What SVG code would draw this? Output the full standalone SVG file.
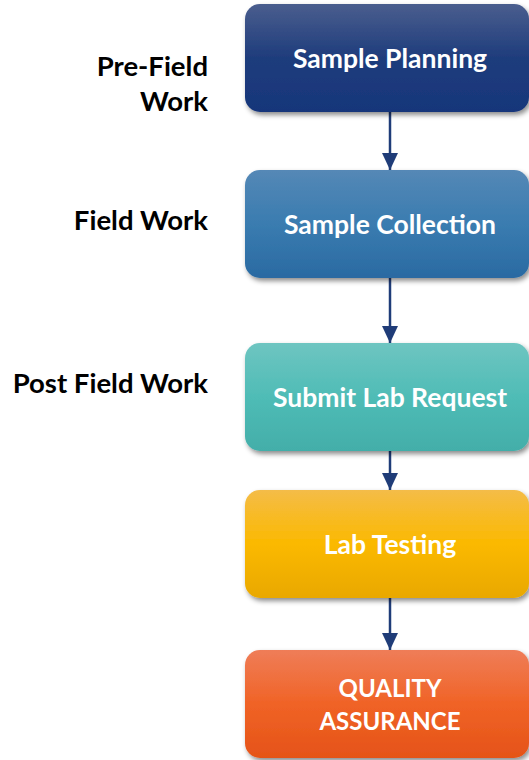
<svg xmlns="http://www.w3.org/2000/svg" width="529" height="760" viewBox="0 0 529 760">
<defs>
<style>
.box{stroke:none;filter:url(#sh)}
.bt{font-family:Lato,"Open Sans","Liberation Sans",sans-serif;font-weight:bold;font-size:26.5px;fill:#ffffff;text-anchor:middle}
.caps{font-size:24px}
.lt{font-family:Lato,"Open Sans","Liberation Sans",sans-serif;font-weight:bold;font-size:27.5px;fill:#000000;text-anchor:end}
.con{stroke:#1f3c78;stroke-width:2.5;fill:none;marker-end:url(#ah)}
</style>
<filter id="sh" x="-10%" y="-10%" width="125%" height="130%">
<feDropShadow dx="2" dy="3" stdDeviation="2.5" flood-color="#000" flood-opacity="0.45"/>
</filter>
<marker id="ah" viewBox="0 0 17 16" refX="17" refY="8" markerWidth="17" markerHeight="16" markerUnits="userSpaceOnUse" orient="auto">
<path d="M0,0 L17,8 L0,16 Z" fill="#1f3c78"/>
</marker>
<linearGradient id="g1" x1="0" y1="0" x2="0" y2="1"><stop offset="0" stop-color="#4a5e8e"/><stop offset="0.5" stop-color="#1e3c7c"/><stop offset="1" stop-color="#17367a"/></linearGradient>
<linearGradient id="g2" x1="0" y1="0" x2="0" y2="1"><stop offset="0" stop-color="#5588b6"/><stop offset="0.5" stop-color="#3a7cb0"/><stop offset="1" stop-color="#2a6aa2"/></linearGradient>
<linearGradient id="g3" x1="0" y1="0" x2="0" y2="1"><stop offset="0" stop-color="#6ec5c1"/><stop offset="0.5" stop-color="#4fbcb6"/><stop offset="1" stop-color="#43aea9"/></linearGradient>
<linearGradient id="g4" x1="0" y1="0" x2="0" y2="1"><stop offset="0" stop-color="#f4bc48"/><stop offset="0.5" stop-color="#fbb900"/><stop offset="1" stop-color="#e9a800"/></linearGradient>
<linearGradient id="g5" x1="0" y1="0" x2="0" y2="1"><stop offset="0" stop-color="#ef7d58"/><stop offset="0.5" stop-color="#f06326"/><stop offset="1" stop-color="#e55318"/></linearGradient>
</defs>
<rect width="529" height="760" fill="#ffffff"/>
<g id="labels">
<text class="lt" x="208" y="76">Pre-Field</text>
<text class="lt" x="208" y="111">Work</text>
<text class="lt" x="208" y="230">Field Work</text>
<text class="lt" x="208" y="393">Post Field Work</text>
</g>
<g id="connectors">
<line class="con" x1="390" y1="112" x2="390" y2="170"/>
<line class="con" x1="390" y1="278" x2="390" y2="343"/>
<line class="con" x1="390" y1="451" x2="390" y2="490"/>
<line class="con" x1="390" y1="598" x2="390" y2="650"/>
</g>
<g id="n1">
<rect class="box" x="245" y="4" width="284" height="108" rx="15" fill="url(#g1)"/>
<text class="bt" x="390" y="68">Sample Planning</text>
</g>
<g id="n2">
<rect class="box" x="245" y="170" width="284" height="108" rx="15" fill="url(#g2)"/>
<text class="bt" x="390" y="234">Sample Collection</text>
</g>
<g id="n3">
<rect class="box" x="245" y="343" width="284" height="108" rx="15" fill="url(#g3)"/>
<text class="bt" x="390" y="407">Submit Lab Request</text>
</g>
<g id="n4">
<rect class="box" x="245" y="490" width="284" height="108" rx="15" fill="url(#g4)"/>
<text class="bt" x="390" y="554">Lab Testing</text>
</g>
<g id="n5">
<rect class="box" x="245" y="650" width="284" height="108" rx="15" fill="url(#g5)"/>
<text class="bt caps" x="390" y="697">QUALITY</text>
<text class="bt caps" x="390" y="730">ASSURANCE</text>
</g>
</svg>
